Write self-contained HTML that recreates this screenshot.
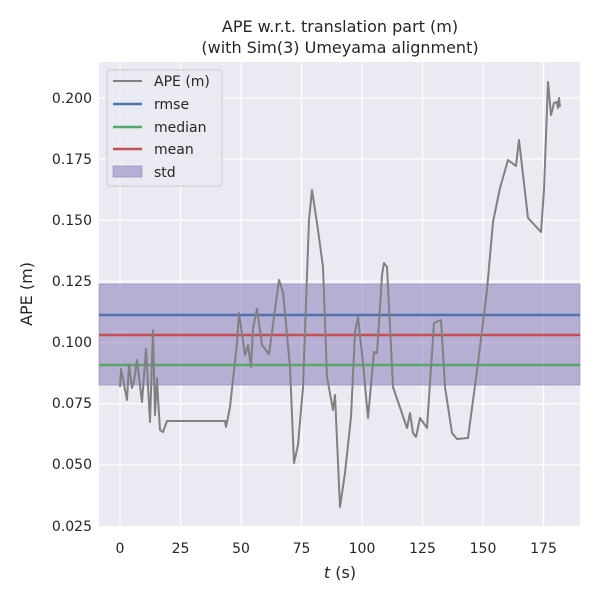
<!DOCTYPE html><html><head><style>body{margin:0;background:#fff}</style></head><body>
<svg width="600" height="600" xmlns="http://www.w3.org/2000/svg" font-family="DejaVu Sans, Liberation Sans, sans-serif">
<rect x="99" y="62" width="481" height="464" fill="#eaeaf2"/>
<g stroke="#fff" stroke-width="1.2">
<line x1="120" y1="62" x2="120" y2="526"/><line x1="180.5" y1="62" x2="180.5" y2="526"/><line x1="241" y1="62" x2="241" y2="526"/><line x1="301.5" y1="62" x2="301.5" y2="526"/><line x1="362" y1="62" x2="362" y2="526"/><line x1="422.5" y1="62" x2="422.5" y2="526"/><line x1="483" y1="62" x2="483" y2="526"/><line x1="543.5" y1="62" x2="543.5" y2="526"/>
<line x1="99" y1="98" x2="580" y2="98"/><line x1="99" y1="159" x2="580" y2="159"/><line x1="99" y1="220.3" x2="580" y2="220.3"/><line x1="99" y1="281.4" x2="580" y2="281.4"/><line x1="99" y1="342.6" x2="580" y2="342.6"/><line x1="99" y1="403.7" x2="580" y2="403.7"/><line x1="99" y1="464.8" x2="580" y2="464.8"/>
</g>
<rect x="99" y="284" width="481" height="101" fill="#8172b3" fill-opacity="0.5" stroke="#8172b3" stroke-opacity="0.5"/>
<line x1="99" y1="315" x2="580" y2="315" stroke="#4c72b0" stroke-width="2.5"/>
<line x1="99" y1="335" x2="580" y2="335" stroke="#c44e52" stroke-width="2.5"/>
<line x1="99" y1="365" x2="580" y2="365" stroke="#55a868" stroke-width="2.5"/>
<polyline fill="none" stroke="#808080" stroke-width="2" stroke-linejoin="round" points="120,387 121,369 127,400 129,365 132,388 134,381 137,360 142,402 146,349 150,422 153,330 155,415 157,378 158,398 160,430 163,432 167,421 225,421 226,427 230,407 237,343 239,313 245,355 248,345 251,367 253,328 257,309 262,345 269,354 279,280 283,292 290,367 294,463 298,445 303,387 309,220 312,190 318,230 323,267 327,377 333,410 335,395 340,507 345,473 351,417 355,332 358,317 363,363 368,418 374,352 377,353 382,275 384,263 387,267 393,387 407,428 410,413 413,433 416,437 420,418 427,428 434,323 441,320 445,387 452,433 457,439 468,438 478,363 487,290 493,222 500,188 508,160 516,166 519,140 528,218 541,232 544,190 548,82 551,115 554,103 557,102 558,108 559,98 560,107"/>
<g font-size="14" fill="#262626" text-anchor="end">
<text x="92" y="103">0.200</text><text x="92" y="164">0.175</text><text x="92" y="225">0.150</text><text x="92" y="286">0.125</text><text x="92" y="347">0.100</text><text x="92" y="408">0.075</text><text x="92" y="469">0.050</text><text x="92" y="531">0.025</text>
</g>
<g font-size="14" fill="#262626" text-anchor="middle">
<text x="120" y="553">0</text><text x="180.5" y="553">25</text><text x="241" y="553">50</text><text x="301.5" y="553">75</text><text x="362" y="553">100</text><text x="422.5" y="553">125</text><text x="483" y="553">150</text><text x="543.5" y="553">175</text>
<text x="340" y="578" font-size="16"><tspan font-style="italic">t</tspan> (s)</text>
<text x="340" y="32" font-size="16">APE w.r.t. translation part (m)</text>
<text x="340" y="53" font-size="16">(with Sim(3) Umeyama alignment)</text>
<text transform="translate(32,294) rotate(-90)" font-size="16">APE (m)</text>
</g>
<rect x="107" y="70" width="115" height="116" rx="3" fill="#eaeaf2" fill-opacity="0.8" stroke="#ccc"/>
<g stroke-width="2.5"><line x1="113" y1="81" x2="142" y2="81" stroke="#808080" stroke-width="2"/><line x1="113" y1="104" x2="142" y2="104" stroke="#4c72b0"/><line x1="113" y1="127" x2="142" y2="127" stroke="#55a868"/><line x1="113" y1="149" x2="142" y2="149" stroke="#c44e52"/></g>
<rect x="113" y="166" width="29" height="11" fill="#8172b3" fill-opacity="0.5" stroke="#8172b3" stroke-opacity="0.5"/>
<g font-size="14" fill="#262626"><text x="154" y="86">APE (m)</text><text x="154" y="109">rmse</text><text x="154" y="132">median</text><text x="154" y="154">mean</text><text x="154" y="177">std</text></g>
</svg></body></html>
